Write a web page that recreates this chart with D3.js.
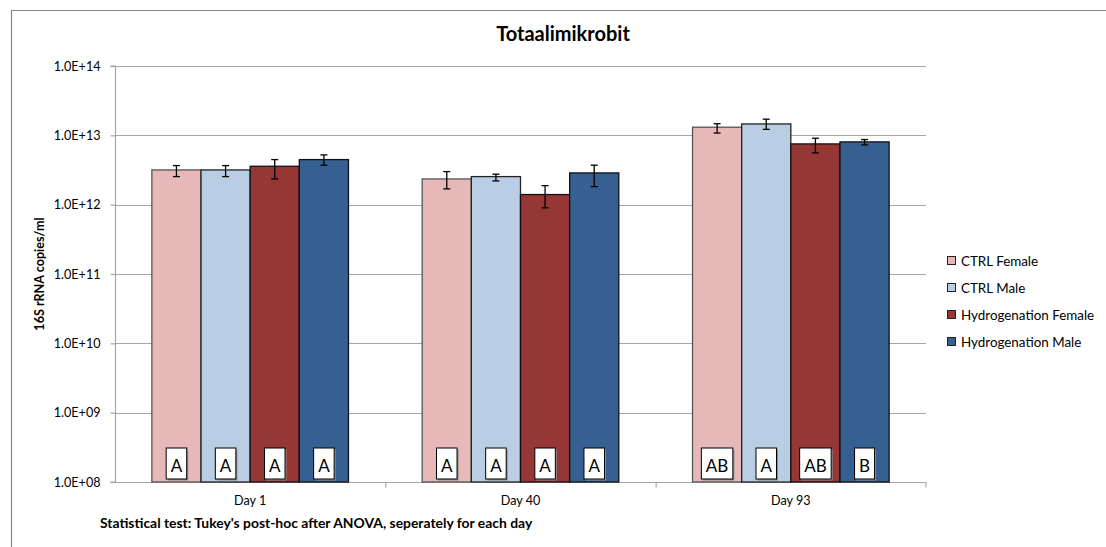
<!DOCTYPE html>
<html>
<head>
<meta charset="utf-8">
<script src="https://cdn.jsdelivr.net/npm/d3@7/dist/d3.min.js"></script>
<style>
  html, body { margin: 0; padding: 0; background: #fff; }
  svg { display: block; font-family: Lato, "Open Sans", sans-serif; }
</style>
</head>
<body>
<svg id="chart" width="1106" height="547"></svg>
<script>
// Sampling days (x categories)
const days = ["Day 1", "Day 40", "Day 93"];
// Groups shown side by side in each day
const groups = ["CTRL Female", "CTRL Male", "Hydrogenation Female", "Hydrogenation Male"];
const groupColors = ["#e6b9b8", "#b9cde5", "#953735", "#376092"];
const groupStrokes = ["#555555", "#222222", "#111111", "#111111"];

// Mean 16S rRNA copies/ml, one array per group (Day 1, Day 40, Day 93)
const ctrlFemale = [3.17e12, 2.35e12, 1.31e13];
const ctrlMale   = [3.17e12, 2.54e12, 1.46e13];
const hydFemale  = [3.58e12, 1.40e12, 7.52e12];
const hydMale    = [4.47e12, 2.87e12, 8.04e12];

// Error bar ends (upper / lower), per group
const ctrlFemaleHi = [3.66e12, 3.00e12, 1.47e13];
const ctrlFemaleLo = [2.54e12, 1.69e12, 1.08e13];
const ctrlMaleHi   = [3.66e12, 2.75e12, 1.71e13];
const ctrlMaleLo   = [2.54e12, 2.20e12, 1.22e13];
const hydFemaleHi  = [4.47e12, 1.88e12, 9.08e12];
const hydFemaleLo  = [2.35e12, 0.90e12, 5.58e12];
const hydMaleHi    = [5.22e12, 3.71e12, 8.69e12];
const hydMaleLo    = [3.71e12, 1.82e12, 7.28e12];

// Tukey post-hoc letters
const ctrlFemaleLetters = ["A", "A", "AB"];
const ctrlMaleLetters   = ["A", "A", "A"];
const hydFemaleLetters  = ["A", "A", "AB"];
const hydMaleLetters    = ["A", "A", "B"];

// Y axis ticks
const yTicks = [1e8, 1e9, 1e10, 1e11, 1e12, 1e13, 1e14];
const yTickLabels = ["1.0E+08", "1.0E+09", "1.0E+10", "1.0E+11", "1.0E+12", "1.0E+13", "1.0E+14"];

const titleText = "Totaalimikrobit";
const yTitle = "16S rRNA copies/ml";
const footnote = "Statistical test: Tukey's  post-hoc after ANOVA, seperately for each day";

const means = [ctrlFemale, ctrlMale, hydFemale, hydMale];
const highs = [ctrlFemaleHi, ctrlMaleHi, hydFemaleHi, hydMaleHi];
const lows = [ctrlFemaleLo, ctrlMaleLo, hydFemaleLo, hydMaleLo];
const letters = [ctrlFemaleLetters, ctrlMaleLetters, hydFemaleLetters, hydMaleLetters];

const rows = [];
days.forEach((d, di) => groups.forEach((g, gi) => rows.push({
  day: d, group: g, gi,
  value: means[gi][di], hi: highs[gi][di], lo: lows[gi][di], letter: letters[gi][di]
})));

const svg = d3.select("#chart");
const plot = { left: 115, right: 926, top: 66, bottom: 482 };

// Chart frame
svg.append("line").attr("x1", 11).attr("x2", 1106).attr("y1", 10.5).attr("y2", 10.5)
  .attr("stroke", "#868686").attr("stroke-width", 1.2);
svg.append("line").attr("x1", 11.5).attr("x2", 11.5).attr("y1", 10).attr("y2", 547)
  .attr("stroke", "#868686").attr("stroke-width", 1.2);

const x = d3.scaleBand().domain(days).range([plot.left, plot.right]).paddingInner(0).paddingOuter(0);
// Each day holds 4 bars in a band of 5.5 bar widths (gap width 150%)
const barW = x.bandwidth() / 5.5;
const groupOffset = 0.75 * barW;

const y = d3.scaleLog().domain([1e8, 1e14]).range([plot.bottom, plot.top]);

// Gridlines
svg.append("g").selectAll("line").data(yTicks.slice(1)).join("line")
  .attr("x1", plot.left).attr("x2", plot.right)
  .attr("y1", d => Math.round(y(d)) + 0.5).attr("y2", d => Math.round(y(d)) + 0.5)
  .attr("stroke", "#a6a6a6").attr("stroke-width", 1.2);

// Y axis
const yAxis = d3.axisLeft(y).tickValues(yTicks)
  .tickFormat((d, i) => yTickLabels[i]).tickSize(5).tickPadding(10);
const yg = svg.append("g").attr("transform", `translate(${plot.left + 0.5},0)`).call(yAxis);
yg.select(".domain").attr("stroke", "#a6a6a6").attr("stroke-width", 1.2).attr("d", `M-5,${plot.bottom}H0V${plot.top}H-5`);
yg.selectAll(".tick line").attr("stroke", "#a6a6a6").attr("stroke-width", 1.2);
yg.selectAll(".tick text").attr("font-size", 12.6).attr("fill", "#000").attr("font-family", "Lato, sans-serif");

// X axis
const xAxis = d3.axisBottom(x).tickSize(0).tickPadding(14);
const xg = svg.append("g").attr("transform", `translate(0,${plot.bottom + 0.5})`).call(xAxis);
xg.select(".domain").attr("stroke", "#a6a6a6").attr("stroke-width", 1.2)
  .attr("d", `M${plot.left},0H${plot.right}V5`);
xg.selectAll(".tick text").attr("font-size", 12.6).attr("fill", "#000").attr("font-family", "Lato, sans-serif");
// Category separators
xg.append("g").selectAll("line").data(days.slice(1)).join("line")
  .attr("x1", d => x(d) + 0.5).attr("x2", d => x(d) + 0.5).attr("y1", 0).attr("y2", 5)
  .attr("stroke", "#a6a6a6").attr("stroke-width", 1.2);

// Bars
const barX = d => x(d.day) + groupOffset + d.gi * barW;
svg.append("g").selectAll("rect").data(rows).join("rect")
  .attr("x", barX)
  .attr("y", d => y(d.value))
  .attr("width", barW)
  .attr("height", d => y(1e8) - y(d.value))
  .attr("fill", d => groupColors[d.gi])
  .attr("stroke", d => groupStrokes[d.gi])
  .attr("stroke-width", 1.3);

// Error bars
const eb = svg.append("g").attr("stroke", "#000").attr("stroke-width", 1.3);
rows.forEach(d => {
  const cx = barX(d) + barW / 2;
  eb.append("line").attr("x1", cx).attr("x2", cx).attr("y1", y(d.hi)).attr("y2", y(d.lo));
  eb.append("line").attr("x1", cx - 3.5).attr("x2", cx + 3.5).attr("y1", y(d.hi)).attr("y2", y(d.hi));
  eb.append("line").attr("x1", cx - 3.5).attr("x2", cx + 3.5).attr("y1", y(d.lo)).attr("y2", y(d.lo));
});

// Significance letter boxes
const lg = svg.append("g");
rows.forEach(d => {
  const cx = barX(d) + barW / 2;
  const t = lg.append("text").attr("x", cx).attr("y", 471.5)
    .attr("text-anchor", "middle").attr("font-size", 17).attr("fill", "#000")
    .attr("font-family", "Lato, sans-serif").text(d.letter);
  const w = t.node().getComputedTextLength() + 9;
  lg.insert("rect", "text").attr("x", cx - w / 2 + 1.5).attr("y", 449.5).attr("width", w).attr("height", 31)
    .attr("fill", "#8c8c8c");
  lg.insert("rect", "text").attr("x", cx - w / 2).attr("y", 448).attr("width", w).attr("height", 31)
    .attr("fill", "#fff").attr("stroke", "#000").attr("stroke-width", 1);
});

// Title
svg.append("text").attr("x", 563).attr("y", 41).attr("text-anchor", "middle")
  .attr("font-size", 20).attr("font-weight", "bold").attr("fill", "#000").text(titleText);

// Y axis title
svg.append("text").attr("transform", `translate(44,${(plot.top + plot.bottom) / 2}) rotate(-90)`)
  .attr("text-anchor", "middle").attr("font-size", 12.6).attr("font-weight", "bold").attr("fill", "#000")
  .text(yTitle);

// Footnote
svg.append("text").attr("x", 100).attr("y", 528).attr("font-size", 13.9).attr("font-weight", "bold")
  .attr("fill", "#000").text(footnote);

// Legend
const leg = svg.append("g");
groups.forEach((g, i) => {
  const cy = 261 + i * 27;
  leg.append("rect").attr("x", 947.5).attr("y", cy - 4.5).attr("width", 8).attr("height", 8)
    .attr("fill", groupColors[i]).attr("stroke", "#222").attr("stroke-width", 1);
  leg.append("text").attr("x", 961).attr("y", cy + 5).attr("font-size", 13.4).attr("fill", "#000").text(g);
});
</script>
</body>
</html>
